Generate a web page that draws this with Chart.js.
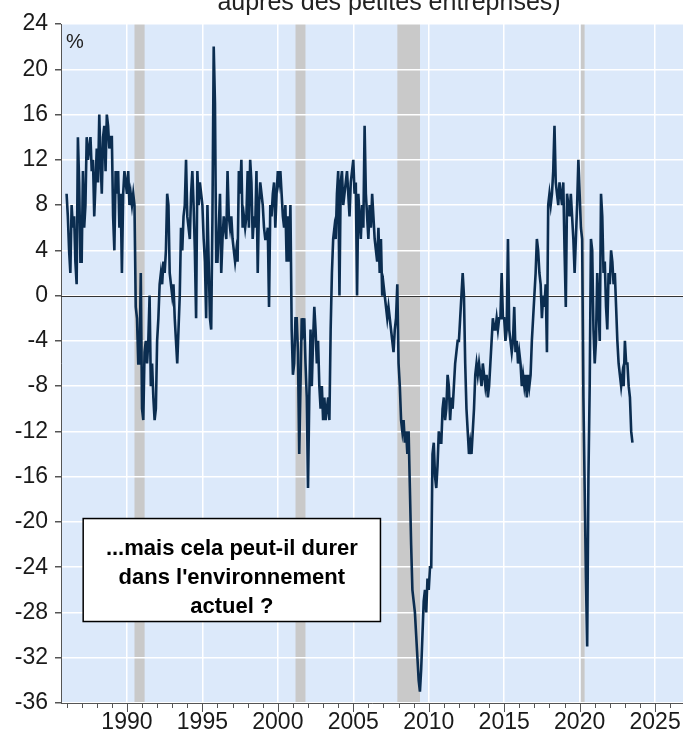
<!DOCTYPE html>
<html>
<head>
<meta charset="utf-8">
<script src="https://cdn.jsdelivr.net/npm/chart.js@4"></script>
<style>
  html, body { margin: 0; padding: 0; background: #fff; }
  #wrap { position: relative; width: 683px; height: 742px; }
</style>
</head>
<body>
<div id="wrap"><canvas id="myChart"></canvas></div>
<script>
// monthly values (%), first point = January 1986
const firstYear = 1986;
const v1986_1995 = [
  9, 7, 4, 2, 8, 6, 7, 3, 1, 14, 10, 3,
  3, 11, 6, 8, 14, 12, 13, 14, 11, 12, 7, 10,
  13, 10, 16, 12, 9, 14, 15, 11, 16, 15, 13, 14,
  14, 7, 4, 11, 9, 11, 6, 9, 2, 9, 11, 10,
  9, 11, 8, 9, 8, 9, 8, -1, -2, -6, -6, 2,
  -10, -11, -5, -4, -6, -4, 0, -8, -6, -9, -11, -10,
  -4, -2, 1, 2, 1, 3, 2, 4, 9, 8, 2, 1,
  0, 1, -2, -4, -6, -3, 0, 6, 4, 7, 8, 12,
  7, 6, 5, 9, 11, 8, 4, -2, 11, 8, 10, 9,
  8, 5, 3, -2, 8, 3, -2, -3, 7, 22, 17, 3
];
const v1996_2005 = [
  3, 6, 9, 2, 5, 7, 6, 5, 11, 7, 6, 7,
  5, 4, 3, 4, 3, 11, 9, 12, 6, 7, 6, 7,
  11, 6, 12, 10, 5, 7, 6, 11, 2, 8, 10, 9,
  8, 6, 5, 5, 6, -1, 8, 7, 9, 10, 6, 9,
  11, 10, 11, 9, 7, 6, 8, 3, 7, 3, 8, -3,
  -7, -6, -2, -2, -5, -14, -8, -2, -3, -2, -6, -9,
  -17, -9, -3, -8, -4, -1, -3, -6, -4, -8, -10, -8,
  -11, -9, -11, -10, -9, -11, -3, 2, 5, 6, 5, 9,
  11, 0, 10, 11, 8, 9, 10, 11, 9, 7, 10, 11,
  12, 9, 10, 0, 9, 7, 5, 8, 6, 15, 9, 7
];
const v2006_2015 = [
  5, 8, 6, 9, 7, 5, 4, 3, 6, 2, 5, 0,
  1, 0, -1, -2, -1, -2, -3, -4, -5, -3, -2, 1,
  -6, -8, -11, -12, -11, -13, -12, -14, -12, -17, -22, -26,
  -27, -28, -30, -32, -34, -35, -33, -30, -27, -26, -28, -25,
  -26, -24, -24, -14, -13, -16, -17, -15, -12, -13, -13, -10,
  -9, -11, -10, -7, -8, -11, -9, -10, -8, -6, -5, -4,
  -4, -2, 0, 2, 0, -6, -10, -12, -14, -13, -14, -12,
  -10, -7, -6, -7, -6, -7, -8, -6, -7, -8, -7, -9,
  -8, -6, -4, -2, -3, -3, -2, -3, -2, -2, 2, -2,
  -2, -4, -3, 5, -3, -4, -5, -4, -1, -5, -4, -6
];
const v2016_2023 = [
  -5, -6, -8, -7, -8, -7, -9, -7, -8, -7, -4, -2,
  0, 2, 5, 4, 2, 1, -2, 0, -1, 1, -5, 8,
  9, 8, 9, 11, 15, 10, 9, 8, 10, 9, 8, 10,
  4, -1, 9, 8, 7, 9, 7, 5, 2, 5, 8, 12,
  9, 6, 5, -9, -17, -25, -31, -16, -8, 5, 4, -3,
  -6, -4, 2, -1, -4, 9, 7, 2, 3, -1, -3, 2,
  1, 4, 3, 1, 2, -1, -4, -6, -7, -8, -7, -8,
  -4, -6, -6, -8, -9, -12, -13
];

// recessions (decimal years)
const recessions = [[1990.5, 1991.17], [2001.17, 2001.83], [2007.92, 2009.42], [2020.08, 2020.33]];
const yTicks = { min: -36, max: 24, step: 4 };
const xRange = { min: 1985.63, max: 2026.85 };
const boxLines = ["...mais cela peut-il durer", "dans l'environnement", "actuel ?"];
const titleTail = "auprès des petites entreprises)";

const values = [...v1986_1995, ...v1996_2005, ...v2006_2015, ...v2016_2023];
const points = values.map((v, i) => ({ x: firstYear + i / 12, y: v }));

const FONT = '"Liberation Sans", Arial, sans-serif';

const decor = {
  id: 'decor',
  beforeDraw(chart) {
    const { ctx, chartArea: a, scales: { x } } = chart;
    ctx.save();
    ctx.fillStyle = '#dce9fa';
    ctx.fillRect(a.left, a.top, a.right - a.left, a.bottom - a.top);
    ctx.fillStyle = '#c9c9c9';
    recessions.forEach(([s, e]) => {
      const x0 = x.getPixelForValue(s), x1 = x.getPixelForValue(e);
      ctx.fillRect(x0, a.top, x1 - x0, a.bottom - a.top);
    });
    // title, only its lower part is inside the picture
    ctx.fillStyle = '#222';
    ctx.font = '25px ' + FONT;
    ctx.textAlign = 'center';
    ctx.textBaseline = 'alphabetic';
    ctx.fillText(titleTail, 389, 10);
    ctx.restore();
  },
  beforeDatasetsDraw(chart) {
    const { ctx, chartArea: a, scales: { y } } = chart;
    const y0 = Math.round(y.getPixelForValue(0)) + 0.5;
    ctx.save();
    ctx.strokeStyle = '#333';
    ctx.lineWidth = 1;
    ctx.beginPath();
    ctx.moveTo(a.left, y0);
    ctx.lineTo(a.right, y0);
    ctx.stroke();
    ctx.restore();
  },
  afterDraw(chart) {
    const { ctx, chartArea: a, scales: { x, y } } = chart;
    ctx.save();
    // year ticks under the axis
    ctx.strokeStyle = '#555';
    ctx.lineWidth = 1;
    for (let yr = 1986; yr <= 2026; yr++) {
      const px = Math.round(x.getPixelForValue(yr)) + 0.5;
      ctx.beginPath();
      ctx.moveTo(px, a.bottom);
      ctx.lineTo(px, a.bottom + (yr % 5 === 0 ? 9 : 5));
      ctx.stroke();
    }
    // unit
    ctx.fillStyle = '#222';
    ctx.font = '20px ' + FONT;
    ctx.textAlign = 'left';
    ctx.textBaseline = 'middle';
    ctx.fillText('%', a.left + 5, a.top + 18);
    // text box
    const bl = x.getPixelForValue(1987.1), br = x.getPixelForValue(2006.8);
    const bt = y.getPixelForValue(-19.7), bb = y.getPixelForValue(-28.8);
    ctx.fillStyle = '#fff';
    ctx.fillRect(bl, bt, br - bl, bb - bt);
    ctx.strokeStyle = '#000';
    ctx.lineWidth = 1.5;
    ctx.strokeRect(bl, bt, br - bl, bb - bt);
    ctx.fillStyle = '#000';
    ctx.font = 'bold 22px ' + FONT;
    ctx.textAlign = 'center';
    const cx = (bl + br) / 2;
    boxLines.forEach((t, i) => ctx.fillText(t, cx, bt + 30 + i * 29));
    ctx.restore();
  }
};

new Chart(document.getElementById('myChart'), {
  type: 'line',
  data: {
    datasets: [{
      data: points,
      borderColor: '#0b2d50',
      borderWidth: 2.6,
      pointRadius: 0,
      tension: 0,
      fill: false
    }]
  },
  options: {
    responsive: true,
    maintainAspectRatio: false,
    animation: false,
    devicePixelRatio: 1,
    layout: { padding: { top: 24, left: 0, right: 0, bottom: 0 } },
    plugins: { legend: { display: false }, tooltip: { enabled: false } },
    scales: {
      x: {
        type: 'linear',
        min: xRange.min,
        max: xRange.max,
        afterFit: (s) => { s.height = 39; },
        ticks: {
          stepSize: 1,
          includeBounds: false,
          autoSkip: false,
          maxRotation: 0,
          padding: 6,
          color: '#1a1a1a',
          font: { size: 23, family: FONT },
          callback: (v) => Math.round(v) % 5 === 0 ? String(Math.round(v)) : ''
        },
        grid: {
          drawTicks: false,
          lineWidth: 1.5,
          color: (c) => c.tick && Math.round(c.tick.value) % 5 === 0 ? '#ffffff' : 'rgba(0,0,0,0)'
        },
        border: { display: true, color: '#555', width: 1 }
      },
      y: {
        min: yTicks.min,
        max: yTicks.max,
        afterFit: (s) => { s.width = 61; },
        ticks: {
          stepSize: yTicks.step,
          padding: 7,
          color: '#1a1a1a',
          font: { size: 23, family: FONT }
        },
        grid: {
          color: '#ffffff',
          lineWidth: 1.5,
          tickLength: 6,
          tickColor: '#555'
        },
        border: { display: true, color: '#555', width: 1 }
      }
    }
  },
  plugins: [decor]
});
</script>
</body>
</html>
